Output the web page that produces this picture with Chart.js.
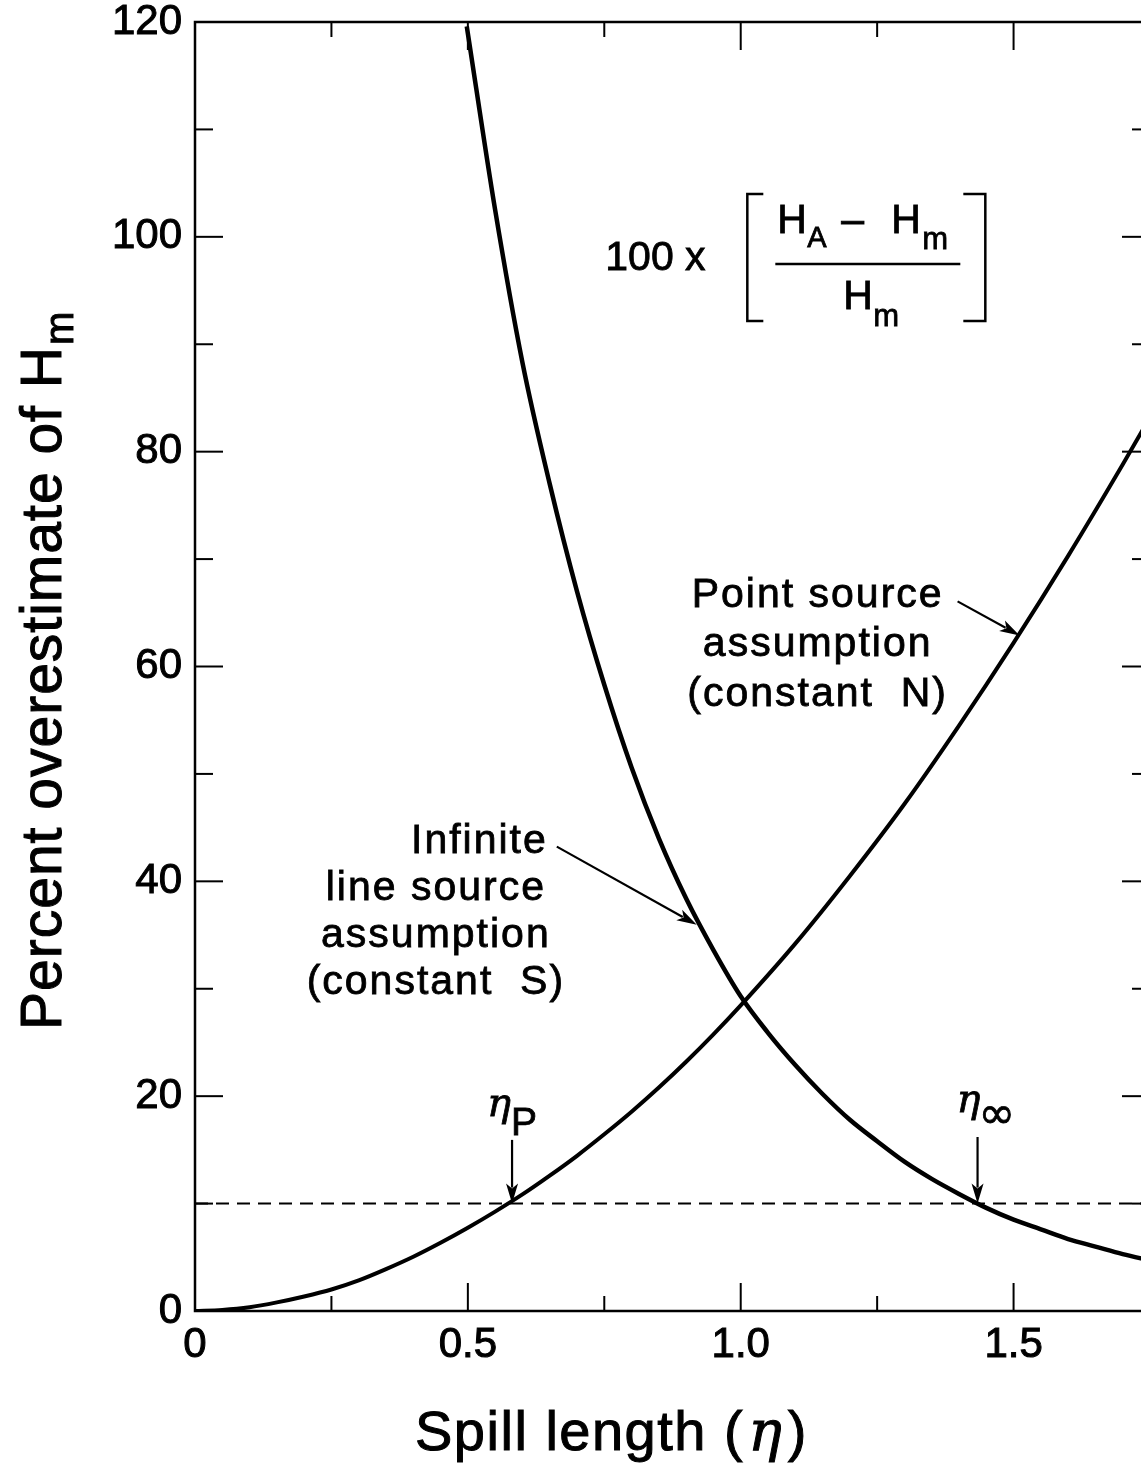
<!DOCTYPE html>
<html>
<head>
<meta charset="utf-8">
<script src="https://cdn.jsdelivr.net/npm/chart.js@4.4.1/dist/chart.umd.min.js"></script>
<style>
html,body{margin:0;padding:0;background:#fff;overflow:hidden;}
canvas{display:block;}
</style>
</head>
<body>
<canvas id="c" width="1160" height="1468"></canvas>
<script>
// ---- data ----
const pointX = [0,0.05,0.1,0.15,0.2,0.25,0.3,0.35,0.4,0.45,0.5,0.55,0.6,0.65,0.7,0.75,0.8,0.85,0.9,0.95,1.0,1.1,1.2,1.3,1.4,1.5,1.6,1.7,1.75];
const pointY = [0,0.1,0.35,0.8,1.35,2.0,2.85,3.9,5.05,6.35,7.75,9.25,10.85,12.6,14.45,16.45,18.55,20.8,23.2,25.75,28.45,34.2,40.5,47.2,54.5,62.2,70.3,78.8,83.2];
const lineX = [0.498,0.55,0.6,0.65,0.7,0.75,0.8,0.85,0.9,0.95,1.0,1.05,1.1,1.15,1.2,1.25,1.3,1.35,1.4,1.45,1.5,1.55,1.6,1.65,1.7,1.75];
const lineY = [119.6,102.5,88.3,77.0,67.0,58.3,50.6,44.0,38.4,33.6,29.3,25.9,22.9,20.2,17.8,15.8,13.9,12.3,10.9,9.6,8.5,7.6,6.7,6.0,5.3,4.7];
const refX = [0,1.75];
const refY = [10,10];
const xTickLabels = ['0','0.5','1.0','1.5'];
const yTickLabels = ['0','20','40','60','80','100','120'];
const etaP = 0.581;
const etaInf = 1.434;

const toXY = (xs, ys) => xs.map((x,i)=>({x:x, y:ys[i]}));
const SANS = '"Liberation Sans", Arial, Helvetica, sans-serif';
const SERIF = '"DejaVu Serif", "Liberation Serif", serif';

function arrow(ctx, x1,y1,x2,y2, hl, hw){
  const a = Math.atan2(y2-y1, x2-x1);
  ctx.beginPath(); ctx.moveTo(x1,y1);
  ctx.lineTo(x2 - Math.cos(a)*hl*0.8, y2 - Math.sin(a)*hl*0.8); ctx.stroke();
  ctx.beginPath();
  ctx.moveTo(x2,y2);
  ctx.lineTo(x2 - Math.cos(a)*hl + Math.sin(a)*hw, y2 - Math.sin(a)*hl - Math.cos(a)*hw);
  ctx.lineTo(x2 - Math.cos(a)*hl*0.75, y2 - Math.sin(a)*hl*0.75);
  ctx.lineTo(x2 - Math.cos(a)*hl - Math.sin(a)*hw, y2 - Math.sin(a)*hl + Math.cos(a)*hw);
  ctx.closePath(); ctx.fill();
}
function line(ctx,x1,y1,x2,y2){ctx.beginPath();ctx.moveTo(x1,y1);ctx.lineTo(x2,y2);ctx.stroke();}
function txt(ctx,s,x,y){ ctx.fillText(s,x,y); ctx.strokeText(s,x,y); }

const decor = {
  id:'decor',
  afterDatasetsDraw(chart){
    const ctx = chart.ctx, xs = chart.scales.x, ys = chart.scales.y;
    const {left,right,top,bottom} = chart.chartArea;
    const X = v=>xs.getPixelForValue(v), Y = v=>ys.getPixelForValue(v);
    ctx.save();
    ctx.strokeStyle='#000'; ctx.fillStyle='#000';
    // frame
    ctx.lineWidth = 2.5;
    ctx.strokeRect(left, top, right-left, bottom-top);
    // inward ticks
    ctx.lineWidth = 2;
    for (let v=0; v<=120; v+=10){
      const py = Y(v), L = (v%20===0)?28:18;
      line(ctx,left,py,left+L,py); line(ctx,right,py,right-L,py);
    }
    for (let i=0;i<=7;i++){
      const px = X(i*0.25), L = (i%2===0)?28:15;
      line(ctx,px,bottom,px,bottom-L); line(ctx,px,top,px,top+L);
    }
    ctx.textBaseline='alphabetic';
    ctx.letterSpacing='0px';
    // formula
    const fx = X(1.232), fy = Y(97.46); // centre of fraction bar
    ctx.lineWidth = 0.8;
    ctx.font = '41px '+SANS; ctx.textAlign='left';
    txt(ctx,'100 x', fx-262, fy+6);
    ctx.lineWidth = 2.5;
    ctx.beginPath(); ctx.moveTo(fx-104,fy-70); ctx.lineTo(fx-120,fy-70); ctx.lineTo(fx-120,fy+57); ctx.lineTo(fx-104,fy+57); ctx.stroke();
    ctx.beginPath(); ctx.moveTo(fx+96,fy-70); ctx.lineTo(fx+118,fy-70); ctx.lineTo(fx+118,fy+57); ctx.lineTo(fx+96,fy+57); ctx.stroke();
    line(ctx, fx-92, fy, fx+93, fy);
    ctx.lineWidth = 0.8;
    ctx.font = '41px '+SANS; txt(ctx,'H', fx-90, fy-31);
    ctx.font = '29px '+SANS; txt(ctx,'A', fx-60, fy-17);
    ctx.font = '41px '+SANS; txt(ctx,'\u2013', fx-26, fy-31);
    txt(ctx,'H', fx+24, fy-31);
    ctx.font = '31px '+SANS; txt(ctx,'m', fx+55, fy-15);
    ctx.font = '41px '+SANS; txt(ctx,'H', fx-24, fy+45);
    ctx.font = '31px '+SANS; txt(ctx,'m', fx+6, fy+62);
    // curve labels
    ctx.font = '41px '+SANS; ctx.letterSpacing='2px'; ctx.textBaseline='middle';
    ctx.textAlign='center';
    txt(ctx,'Point source', X(1.141), Y(66.6));
    txt(ctx,'assumption', X(1.141), Y(62.0));
    txt(ctx,'(constant  N)', X(1.141), Y(57.4));
    ctx.textAlign='right';
    txt(ctx,'Infinite', X(0.6465), Y(43.7));
    ctx.textAlign='center';
    txt(ctx,'line source', X(0.4414), Y(39.32));
    txt(ctx,'assumption', X(0.4414), Y(34.94));
    txt(ctx,'(constant  S)', X(0.4414), Y(30.56));
    ctx.letterSpacing='0px';
    ctx.lineWidth = 2.2;
    arrow(ctx, X(1.3974), Y(66.06), X(1.511), Y(62.89), 20, 6);
    arrow(ctx, X(0.663), Y(43.23), X(0.9194), Y(35.96), 20, 6);
    // eta markers
    arrow(ctx, X(etaP), Y(15.93), X(etaP), Y(10), 20, 6);
    arrow(ctx, X(etaInf), Y(16.2), X(etaInf), Y(10), 20, 6);
    ctx.lineWidth = 0.8;
    ctx.textBaseline='alphabetic';
    ctx.font = 'italic 40px '+SERIF; ctx.textAlign='right';
    txt(ctx,'\u03b7', X(etaP)-1, Y(18.17));
    ctx.font = '39px '+SANS; ctx.textAlign='left';
    txt(ctx,'P', X(etaP)-1, Y(16.4));
    ctx.font = 'italic 40px '+SERIF; ctx.textAlign='right';
    txt(ctx,'\u03b7', X(etaInf)+3, Y(18.54));
    ctx.font = '44px "DejaVu Sans", sans-serif'; ctx.textAlign='left';
    txt(ctx,'\u221e', X(etaInf)+1, Y(17.0));
    // axis titles
    ctx.lineWidth = 1;
    ctx.font = '56px '+SANS; ctx.letterSpacing='1.5px'; ctx.textAlign='left';
    const t1 = 'Spill length (';
    const x0 = left + 220, by = bottom + 139;
    txt(ctx,t1, x0, by);
    let w1 = ctx.measureText(t1).width;
    ctx.font = 'italic 56px '+SERIF; ctx.letterSpacing='0px';
    txt(ctx,'\u03b7', x0+w1+4, by);
    let w2 = ctx.measureText('\u03b7').width;
    ctx.font = '56px '+SANS;
    txt(ctx,')', x0+w1+w2+10, by);
    // y title rotated
    ctx.save();
    ctx.translate(left-134, bottom-281);
    ctx.rotate(-Math.PI/2);
    ctx.font = '57px '+SANS; ctx.letterSpacing='1px';
    const t2 = 'Percent overestimate of H';
    txt(ctx,t2, 0, 0);
    const w3 = ctx.measureText(t2).width;
    ctx.font = '40px '+SANS; ctx.letterSpacing='0px';
    txt(ctx,'m', w3+1, 12);
    ctx.restore();
    ctx.restore();
  }
};

new Chart(document.getElementById('c').getContext('2d'), {
  type:'scatter',
  data:{datasets:[
    {data:toXY(pointX,pointY), showLine:true, borderColor:'#000', borderWidth:4, pointRadius:0, cubicInterpolationMode:'monotone', fill:false},
    {data:toXY(lineX,lineY), showLine:true, borderColor:'#000', borderWidth:4.5, pointRadius:0, cubicInterpolationMode:'monotone', fill:false},
    {data:toXY(refX,refY), showLine:true, borderColor:'#000', borderWidth:2, borderDash:[13,8], pointRadius:0, fill:false}
  ]},
  options:{
    responsive:false, animation:false, events:[],
    layout:{padding:{top:22,right:10,left:0,bottom:0}},
    plugins:{legend:{display:false}, tooltip:{enabled:false}},
    scales:{
      x:{type:'linear', min:0, max:1.75,
        ticks:{stepSize:0.25, autoSkip:false, maxRotation:0, padding:9, color:'#000',
          textStrokeColor:'#000', textStrokeWidth:1,
          font:{family:SANS, size:42},
          callback:(v)=>{ const i = Math.round(v/0.5); return Math.abs(v-i*0.5)<1e-6 ? (xTickLabels[i]||'') : ''; }},
        grid:{display:false, drawTicks:false}, border:{display:false},
        afterFit:(s)=>{s.height=157; s.paddingLeft=0; s.paddingRight=0;}},
      y:{type:'linear', min:0, max:120,
        ticks:{stepSize:10, autoSkip:false, padding:13, color:'#000',
          textStrokeColor:'#000', textStrokeWidth:1,
          font:{family:SANS, size:42},
          callback:(v)=>{ return (v%20===0) ? yTickLabels[v/20] : ''; }},
        grid:{display:false, drawTicks:false}, border:{display:false},
        afterFit:(s)=>{s.width=195; s.paddingTop=0; s.paddingBottom=0;}}
    }
  },
  plugins:[decor]
});
</script>
</body>
</html>
